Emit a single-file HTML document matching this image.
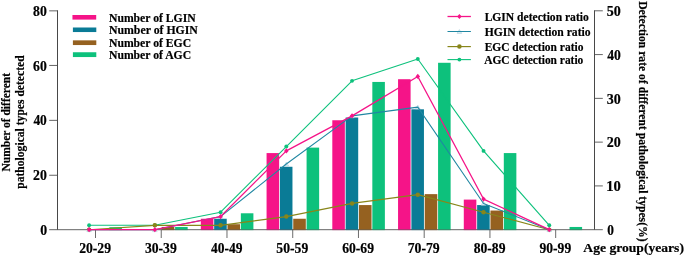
<!DOCTYPE html><html><head><meta charset="utf-8"><style>html,body{margin:0;padding:0;background:#fff}svg{display:block;will-change:transform}text{font-family:"Liberation Serif",serif;font-weight:bold;fill:#000;stroke:#000;stroke-width:0.2px}</style></head><body>
<svg width="685" height="256" viewBox="0 0 685 256">
<rect width="685" height="256" fill="#fff"/>
<rect x="109.37" y="227.24" width="12.55" height="2.46" fill="#0dc17c"/>
<rect x="161.77" y="226.96" width="12.55" height="2.74" fill="#956120"/>
<rect x="175.11" y="226.96" width="12.55" height="2.74" fill="#0dc17c"/>
<rect x="200.83" y="218.75" width="12.55" height="10.94" fill="#f51488"/>
<rect x="214.17" y="218.75" width="12.55" height="10.94" fill="#0a7b96"/>
<rect x="227.51" y="224.23" width="12.55" height="5.47" fill="#956120"/>
<rect x="240.85" y="213.28" width="12.55" height="16.42" fill="#0dc17c"/>
<rect x="266.57" y="153.08" width="12.55" height="76.61" fill="#f51488"/>
<rect x="279.91" y="166.77" width="12.55" height="62.93" fill="#0a7b96"/>
<rect x="293.25" y="218.75" width="12.55" height="10.94" fill="#956120"/>
<rect x="306.59" y="147.61" width="12.55" height="82.09" fill="#0dc17c"/>
<rect x="332.31" y="120.25" width="12.55" height="109.45" fill="#f51488"/>
<rect x="345.65" y="117.51" width="12.55" height="112.19" fill="#0a7b96"/>
<rect x="358.99" y="205.07" width="12.55" height="24.63" fill="#956120"/>
<rect x="372.33" y="81.94" width="12.55" height="147.76" fill="#0dc17c"/>
<rect x="398.05" y="79.21" width="12.55" height="150.49" fill="#f51488"/>
<rect x="411.39" y="109.31" width="12.55" height="120.39" fill="#0a7b96"/>
<rect x="424.73" y="194.13" width="12.55" height="35.57" fill="#956120"/>
<rect x="438.07" y="62.79" width="12.55" height="166.91" fill="#0dc17c"/>
<rect x="463.79" y="199.60" width="12.55" height="30.10" fill="#f51488"/>
<rect x="477.13" y="205.07" width="12.55" height="24.63" fill="#0a7b96"/>
<rect x="490.47" y="210.55" width="12.55" height="19.15" fill="#956120"/>
<rect x="503.81" y="153.08" width="12.55" height="76.61" fill="#0dc17c"/>
<rect x="569.55" y="226.96" width="12.55" height="2.74" fill="#0dc17c"/>
<g stroke="#484848" stroke-width="1.0" fill="none">
<path d="M57.5 10.3V229.7"/>
<path d="M594.5 10.3V229.7"/>
<path d="M49.2 229.7H602.8" stroke-width="0.85"/>
<path d="M49.2 175.25H57.5" stroke-width="0.85"/>
<path d="M49.2 120.35H57.5" stroke-width="0.85"/>
<path d="M49.2 65.45H57.5" stroke-width="0.85"/>
<path d="M49.2 10.85H57.5" stroke-width="0.85"/>
<path d="M594.5 185.92H602.8" stroke-width="0.85"/>
<path d="M594.5 142.14H602.8" stroke-width="0.85"/>
<path d="M594.5 98.36H602.8" stroke-width="0.85"/>
<path d="M594.5 54.58H602.8" stroke-width="0.85"/>
<path d="M594.5 10.80H602.8" stroke-width="0.85"/>
<path d="M95.50 229.7V238.0" stroke-width="0.85" stroke="#505050"/>
<path d="M161.24 229.7V238.0" stroke-width="0.85" stroke="#505050"/>
<path d="M226.98 229.7V238.0" stroke-width="0.85" stroke="#505050"/>
<path d="M292.72 229.7V238.0" stroke-width="0.85" stroke="#505050"/>
<path d="M358.46 229.7V238.0" stroke-width="0.85" stroke="#505050"/>
<path d="M424.20 229.7V238.0" stroke-width="0.85" stroke="#505050"/>
<path d="M489.94 229.7V238.0" stroke-width="0.85" stroke="#505050"/>
<path d="M555.68 229.7V238.0" stroke-width="0.85" stroke="#505050"/>
</g>
<rect x="109.37" y="229.20" width="12.55" height="1" fill="#0dc17c" fill-opacity="0.5"/>
<rect x="161.77" y="229.20" width="12.55" height="1" fill="#956120" fill-opacity="0.5"/>
<rect x="175.11" y="229.20" width="12.55" height="1" fill="#0dc17c" fill-opacity="0.5"/>
<rect x="200.83" y="229.20" width="12.55" height="1" fill="#f51488" fill-opacity="0.5"/>
<rect x="214.17" y="229.20" width="12.55" height="1" fill="#0a7b96" fill-opacity="0.5"/>
<rect x="227.51" y="229.20" width="12.55" height="1" fill="#956120" fill-opacity="0.5"/>
<rect x="240.85" y="229.20" width="12.55" height="1" fill="#0dc17c" fill-opacity="0.5"/>
<rect x="266.57" y="229.20" width="12.55" height="1" fill="#f51488" fill-opacity="0.5"/>
<rect x="279.91" y="229.20" width="12.55" height="1" fill="#0a7b96" fill-opacity="0.5"/>
<rect x="293.25" y="229.20" width="12.55" height="1" fill="#956120" fill-opacity="0.5"/>
<rect x="306.59" y="229.20" width="12.55" height="1" fill="#0dc17c" fill-opacity="0.5"/>
<rect x="332.31" y="229.20" width="12.55" height="1" fill="#f51488" fill-opacity="0.5"/>
<rect x="345.65" y="229.20" width="12.55" height="1" fill="#0a7b96" fill-opacity="0.5"/>
<rect x="358.99" y="229.20" width="12.55" height="1" fill="#956120" fill-opacity="0.5"/>
<rect x="372.33" y="229.20" width="12.55" height="1" fill="#0dc17c" fill-opacity="0.5"/>
<rect x="398.05" y="229.20" width="12.55" height="1" fill="#f51488" fill-opacity="0.5"/>
<rect x="411.39" y="229.20" width="12.55" height="1" fill="#0a7b96" fill-opacity="0.5"/>
<rect x="424.73" y="229.20" width="12.55" height="1" fill="#956120" fill-opacity="0.5"/>
<rect x="438.07" y="229.20" width="12.55" height="1" fill="#0dc17c" fill-opacity="0.5"/>
<rect x="463.79" y="229.20" width="12.55" height="1" fill="#f51488" fill-opacity="0.5"/>
<rect x="477.13" y="229.20" width="12.55" height="1" fill="#0a7b96" fill-opacity="0.5"/>
<rect x="490.47" y="229.20" width="12.55" height="1" fill="#956120" fill-opacity="0.5"/>
<rect x="503.81" y="229.20" width="12.55" height="1" fill="#0dc17c" fill-opacity="0.5"/>
<rect x="569.55" y="229.20" width="12.55" height="1" fill="#0dc17c" fill-opacity="0.5"/>
<path d="M89.10 225.32L154.84 225.32L220.58 212.19L286.32 146.52L352.06 80.85L417.80 58.96L483.54 150.90L549.28 225.32" stroke="#0dc17c" stroke-width="1.1" fill="none" stroke-linejoin="round"/>
<circle cx="89.10" cy="225.32" r="1.95" fill="#0dc17c"/>
<circle cx="154.84" cy="225.32" r="1.95" fill="#0dc17c"/>
<circle cx="220.58" cy="212.19" r="1.95" fill="#0dc17c"/>
<circle cx="286.32" cy="146.52" r="1.95" fill="#0dc17c"/>
<circle cx="352.06" cy="80.85" r="1.95" fill="#0dc17c"/>
<circle cx="417.80" cy="58.96" r="1.95" fill="#0dc17c"/>
<circle cx="483.54" cy="150.90" r="1.95" fill="#0dc17c"/>
<circle cx="549.28" cy="225.32" r="1.95" fill="#0dc17c"/>
<path d="M89.10 229.70L154.84 225.32L220.58 225.32L286.32 216.57L352.06 203.43L417.80 194.68L483.54 212.19L549.28 229.70" stroke="#88861a" stroke-width="1.15" fill="none" stroke-linejoin="round"/>
<circle cx="89.10" cy="229.70" r="2.25" fill="#88861a"/>
<circle cx="154.84" cy="225.32" r="2.25" fill="#88861a"/>
<circle cx="220.58" cy="225.32" r="2.25" fill="#88861a"/>
<circle cx="286.32" cy="216.57" r="2.25" fill="#88861a"/>
<circle cx="352.06" cy="203.43" r="2.25" fill="#88861a"/>
<circle cx="417.80" cy="194.68" r="2.25" fill="#88861a"/>
<circle cx="483.54" cy="212.19" r="2.25" fill="#88861a"/>
<circle cx="549.28" cy="229.70" r="2.25" fill="#88861a"/>
<path d="M89.10 227.80L91.40 231.60H86.80Z" fill="#e4f1f6" stroke="#9fcadb" stroke-width="0.55" stroke-linejoin="miter"/>
<path d="M154.84 227.80L157.14 231.60H152.54Z" fill="#e4f1f6" stroke="#9fcadb" stroke-width="0.55" stroke-linejoin="miter"/>
<path d="M220.58 214.67L222.88 218.47H218.28Z" fill="#e4f1f6" stroke="#9fcadb" stroke-width="0.55" stroke-linejoin="miter"/>
<path d="M286.32 162.13L288.62 165.93H284.02Z" fill="#e4f1f6" stroke="#9fcadb" stroke-width="0.55" stroke-linejoin="miter"/>
<path d="M352.06 113.97L354.36 117.77H349.76Z" fill="#e4f1f6" stroke="#9fcadb" stroke-width="0.55" stroke-linejoin="miter"/>
<path d="M417.80 105.22L420.10 109.02H415.50Z" fill="#e4f1f6" stroke="#9fcadb" stroke-width="0.55" stroke-linejoin="miter"/>
<path d="M483.54 201.53L485.84 205.33H481.24Z" fill="#e4f1f6" stroke="#9fcadb" stroke-width="0.55" stroke-linejoin="miter"/>
<path d="M549.28 227.80L551.58 231.60H546.98Z" fill="#e4f1f6" stroke="#9fcadb" stroke-width="0.55" stroke-linejoin="miter"/>
<path d="M89.10 229.70L154.84 229.70L220.58 216.57L286.32 164.03L352.06 115.87L417.80 107.12L483.54 203.43L549.28 229.70" stroke="#2087a2" stroke-width="1.05" fill="none" stroke-linejoin="round"/>
<path d="M89.10 229.70L154.84 229.70L220.58 216.57L286.32 150.90L352.06 115.87L417.80 76.47L483.54 199.05L549.28 229.70" stroke="#f51488" stroke-width="1.3" fill="none" stroke-linejoin="round"/>
<path d="M89.10 227.10L91.35 229.70L89.10 232.30L86.85 229.70Z" fill="#f51488"/>
<path d="M154.84 227.10L157.09 229.70L154.84 232.30L152.59 229.70Z" fill="#f51488"/>
<path d="M220.58 213.97L222.83 216.57L220.58 219.17L218.33 216.57Z" fill="#f51488"/>
<path d="M286.32 148.30L288.57 150.90L286.32 153.50L284.07 150.90Z" fill="#f51488"/>
<path d="M352.06 113.27L354.31 115.87L352.06 118.47L349.81 115.87Z" fill="#f51488"/>
<path d="M417.80 73.87L420.05 76.47L417.80 79.07L415.55 76.47Z" fill="#f51488"/>
<path d="M483.54 196.45L485.79 199.05L483.54 201.65L481.29 199.05Z" fill="#f51488"/>
<path d="M549.28 227.10L551.53 229.70L549.28 232.30L547.03 229.70Z" fill="#f51488"/>
<text transform="translate(40.15,234.75) scale(1.0154,1)" font-size="13.6">0</text>
<text transform="translate(33.05,179.90) scale(1.0150,1)" font-size="13.6">20</text>
<text transform="translate(33.40,125.05) scale(0.9882,1)" font-size="13.6">40</text>
<text transform="translate(33.12,70.85) scale(1.0095,1)" font-size="13.6">60</text>
<text transform="translate(33.12,16.05) scale(1.0095,1)" font-size="13.6">80</text>
<text transform="translate(607.17,234.95) scale(0.9804,1)" font-size="13.6">0</text>
<text transform="translate(606.23,191.17) scale(1.0779,1)" font-size="13.6">10</text>
<text transform="translate(606.84,147.39) scale(1.0310,1)" font-size="13.6">20</text>
<text transform="translate(606.84,103.61) scale(1.0310,1)" font-size="13.6">30</text>
<text transform="translate(607.20,59.83) scale(1.0037,1)" font-size="13.6">40</text>
<text transform="translate(606.84,16.05) scale(1.0310,1)" font-size="13.6">50</text>
<text transform="translate(79.15,253.05) scale(0.9238,1)" font-size="14.8">20-29</text>
<text transform="translate(144.89,253.05) scale(0.9238,1)" font-size="14.8">30-39</text>
<text transform="translate(210.98,253.05) scale(0.9137,1)" font-size="14.8">40-49</text>
<text transform="translate(276.37,253.05) scale(0.9238,1)" font-size="14.8">50-59</text>
<text transform="translate(342.18,253.05) scale(0.9218,1)" font-size="14.8">60-69</text>
<text transform="translate(407.64,253.05) scale(0.9300,1)" font-size="14.8">70-79</text>
<text transform="translate(473.66,253.05) scale(0.9218,1)" font-size="14.8">80-89</text>
<text transform="translate(539.54,253.05) scale(0.9177,1)" font-size="14.8">90-99</text>
<text transform="translate(583.36,252.00) scale(1.0237,1)" font-size="13.3">Age group(years)</text>
<text transform="translate(9.90,171.53) rotate(-90) scale(0.9281,1)" font-size="12.4">Number of different</text>
<text transform="translate(23.75,188.77) rotate(-90) scale(1.0011,1)" font-size="11.6">pathological types detected</text>
<text transform="translate(638.90,1.17) rotate(90) scale(0.8950,1)" font-size="13">Detection rate of different pathological types(%)</text>
<rect x="72.45" y="15.0" width="23.75" height="4.6" fill="#f51488"/>
<text transform="translate(108.97,21.80) scale(0.8856,1)" font-size="13.2">Number of LGIN</text>
<rect x="72.9" y="27.5" width="23.4" height="4.55" fill="#0a7b96"/>
<text transform="translate(108.96,34.45) scale(0.8944,1)" font-size="13.2">Number of HGIN</text>
<rect x="72.9" y="40.35" width="23.4" height="4.7" fill="#956120"/>
<text transform="translate(108.97,47.00) scale(0.8853,1)" font-size="13.2">Number of EGC</text>
<rect x="72.9" y="52.25" width="23.4" height="4.8" fill="#0dc17c"/>
<text transform="translate(108.97,59.00) scale(0.8853,1)" font-size="13.2">Number of AGC</text>
<path d="M447.5 16.5H470.9" stroke="#f51488" stroke-width="1.3"/>
<path d="M459.40 13.90L461.65 16.50L459.40 19.10L457.15 16.50Z" fill="#f51488"/>
<text transform="translate(484.63,21.00) scale(0.8774,1)" font-size="13.2">LGIN detection ratio</text>
<path d="M459.40 29.60L461.70 33.40H457.10Z" fill="#e4f1f6" stroke="#9fcadb" stroke-width="0.55" stroke-linejoin="miter"/>
<path d="M447.5 31.5H470.9" stroke="#2087a2" stroke-width="1.05"/>
<text transform="translate(484.63,35.90) scale(0.8818,1)" font-size="13.2">HGIN detection ratio</text>
<path d="M447.5 46.6H470.9" stroke="#88861a" stroke-width="1.15"/>
<circle cx="459.40" cy="46.60" r="2.25" fill="#88861a"/>
<text transform="translate(484.63,51.20) scale(0.8696,1)" font-size="13.2">EGC detection ratio</text>
<path d="M447.5 59.6H470.9" stroke="#0dc17c" stroke-width="1.1"/>
<circle cx="459.40" cy="59.60" r="1.95" fill="#0dc17c"/>
<text transform="translate(484.19,64.00) scale(0.8679,1)" font-size="13.2">AGC detection ratio</text>
</svg></body></html>
